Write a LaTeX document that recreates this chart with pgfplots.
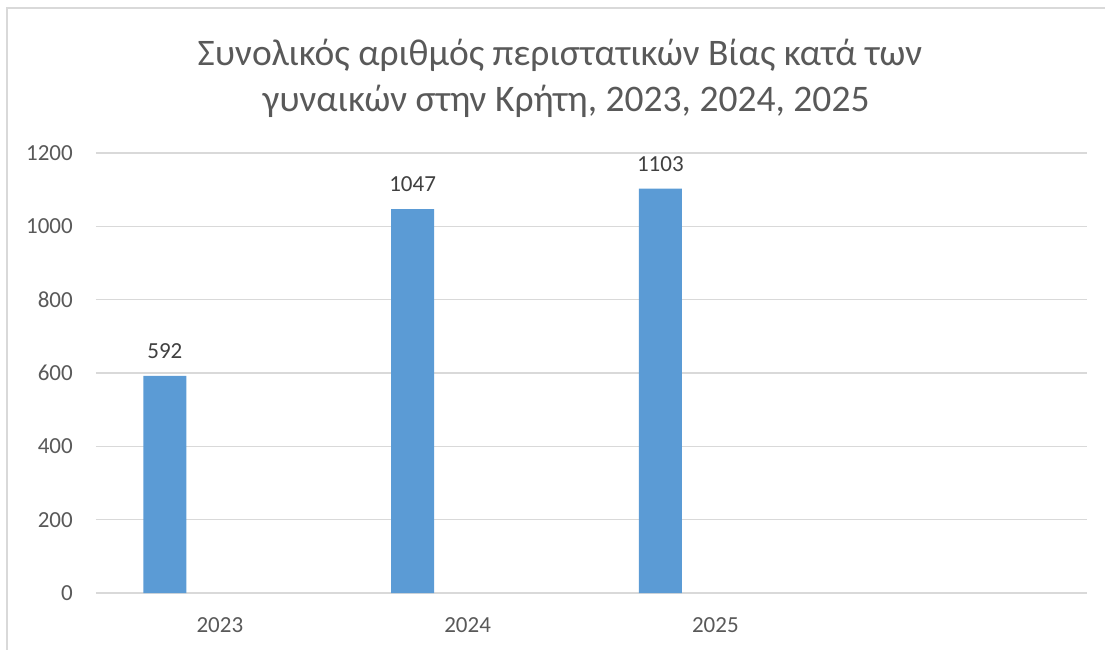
\documentclass[border=0pt]{standalone}
\usepackage{pgfplots}
\pgfplotsset{compat=1.18}
\usepackage{fontspec}
\setmainfont{Carlito}
\definecolor{barblue}{HTML}{5B9BD5}
\definecolor{gridgray}{HTML}{D9D9D9}
\definecolor{txtgray}{HTML}{595959}
\definecolor{lblgray}{HTML}{404040}
\begin{document}
\begin{tikzpicture}
\path[use as bounding box] (-96pt,-56pt) rectangle (1009pt,593pt);
\draw[gridgray, line width=1.2pt] (-89pt,-60pt) -- (-89pt,585pt) -- (1012pt,585pt);
\node[anchor=base, text=txtgray, font=\fontsize{37.5}{44}\selectfont] at (464pt,527pt) {Συνολικός αριθμός περιστατικών Βίας κατά των};
\node[anchor=base, text=txtgray, font=\fontsize{37.5}{44}\selectfont] at (470pt,481pt) {γυναικών στην Κρήτη, 2023, 2024, 2025};
\begin{axis}[
  at={(0pt,0pt)}, anchor=south west,
  scale only axis, width=991pt, height=440pt,
  xmin=-0.5, xmax=3.5, ymin=0, ymax=1200,
  ytick={0,200,...,1200},
  xtick={0,1,2}, xticklabels={2023,2024,2025},
  axis line style={draw=none},
  tick style={draw=none},
  ymajorgrids, grid style={gridgray, line width=1.2pt},
  /pgf/number format/assume math mode=true,
  /pgf/number format/1000 sep={},
  ticklabel style={font=\fontsize{23}{27}\selectfont, text=txtgray, inner sep=0pt},
  yticklabel style={anchor=east, xshift=-23pt},
  xticklabel style={anchor=north, yshift=-24pt},
  clip=false,
]
\addplot[ybar, bar width=43pt, fill=barblue, draw=none,
  nodes near coords, every node near coord/.append style={anchor=south, inner sep=0pt, yshift=17pt, text=lblgray, font=\fontsize{23}{27}\selectfont},
  nodes near coords style={/pgf/number format/1000 sep={}}]
  coordinates {(-0.222,592) (0.778,1047) (1.778,1103)};
\end{axis}
\end{tikzpicture}
\end{document}
